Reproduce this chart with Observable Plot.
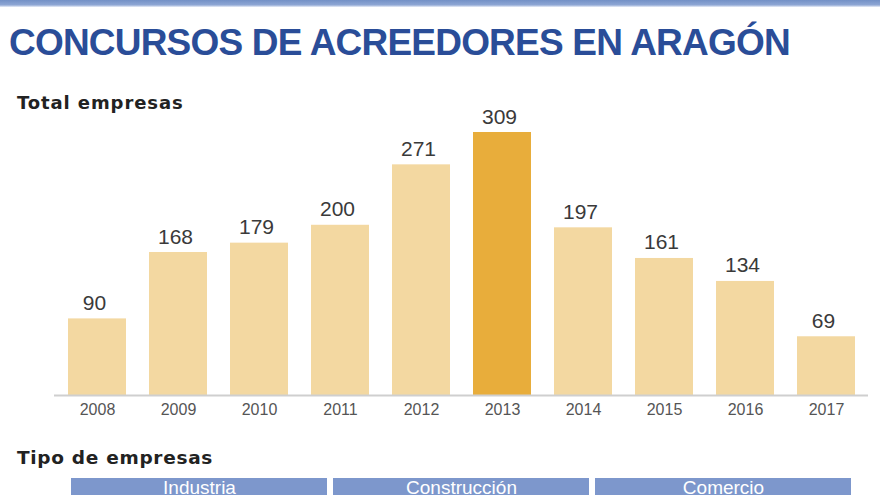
<!DOCTYPE html>
<html>
<head>
<meta charset="utf-8">
<script src="https://cdn.jsdelivr.net/npm/d3@7"></script>
<script src="https://cdn.jsdelivr.net/npm/@observablehq/plot@0.6"></script>
<style>
  html, body { margin: 0; padding: 0; background: #fff; }
  #wrap { position: relative; width: 880px; height: 495px; overflow: hidden; background: #fff; font-family: "Liberation Sans", Arial, sans-serif; }
  #band { position: absolute; left: 0; top: 0; width: 880px; height: 7px; background: linear-gradient(#7390c6, #8ea6d4 70%, #e9eef8); }
  #title { position: absolute; left: 9px; top: 22px; font-size: 37px; font-weight: bold; color: #2a4d98; letter-spacing: -0.8px; white-space: nowrap; }
  #sub1 { position: absolute; left: 17px; top: 92px; font-family: "DejaVu Sans", sans-serif; font-size: 18px; font-weight: bold; color: #222; letter-spacing: 0.9px; white-space: nowrap; }
  #sub2 { position: absolute; left: 17px; top: 447px; font-family: "DejaVu Sans", sans-serif; font-size: 18.5px; font-weight: bold; color: #222; letter-spacing: 0.7px; white-space: nowrap; }
  #chart { position: absolute; left: 0; top: 110px; }
  #boxes { position: absolute; left: 0; top: 478px; }
</style>
</head>
<body>
<div id="wrap">
  <div id="band"></div>
  <div id="title">CONCURSOS DE ACREEDORES EN ARAGÓN</div>
  <div id="sub1">Total empresas</div>
  <div id="chart"></div>
  <div id="sub2">Tipo de empresas</div>
  <div id="boxes"></div>
</div>
<script>
const years = ["2008","2009","2010","2011","2012","2013","2014","2015","2016","2017"];
const totals = [90, 168, 179, 200, 271, 309, 197, 161, 134, 69];
const highlightYear = "2013";
const tipos = ["Industria", "Construcción", "Comercio"];

const data = years.map((y, i) => ({year: y, value: totals[i]}));

const chart = Plot.plot({
  width: 880,
  height: 315,
  marginLeft: 54,
  marginRight: 12,
  marginTop: 22,
  marginBottom: 30,
  style: {background: "transparent", overflow: "visible"},
  x: {domain: years, paddingInner: 0.29, paddingOuter: 0.145, label: null},
  y: {domain: [0, 309], axis: null},
  marks: [
    Plot.barY(data, {x: "year", y: "value", fill: d => d.year === highlightYear ? "#e8ad3b" : "#f3d8a1"}),
    Plot.ruleY([0], {stroke: "#cfcfcf", strokeWidth: 2}),
    Plot.text(data, {x: "year", y: "value", text: d => String(d.value), lineAnchor: "bottom", dy: -9, dx: -3, fontSize: 21, fill: "#3a3a3a", fontFamily: "Liberation Sans, Arial, sans-serif"}),
    Plot.axisX({tickSize: 0, tickPadding: 8, fontSize: 16, fill: "#555", fontFamily: "Liberation Sans Narrow, Liberation Sans, sans-serif", label: null})
  ]
});
document.getElementById("chart").appendChild(chart);

const boxes = Plot.plot({
  width: 880,
  height: 40,
  marginLeft: 70,
  marginRight: 28,
  marginTop: 0,
  marginBottom: 0,
  style: {background: "transparent"},
  x: {domain: tipos, paddingInner: 0.023, paddingOuter: 0, axis: null},
  marks: [
    Plot.cell(tipos, {x: d => d, fill: "#7d97cc"}),
    Plot.text(tipos, {x: d => d, frameAnchor: "top", dy: 2, lineAnchor: "top", fill: "#fff", fontSize: 19, fontFamily: "Liberation Sans, Arial, sans-serif"})
  ]
});
document.getElementById("boxes").appendChild(boxes);
</script>
</body>
</html>
